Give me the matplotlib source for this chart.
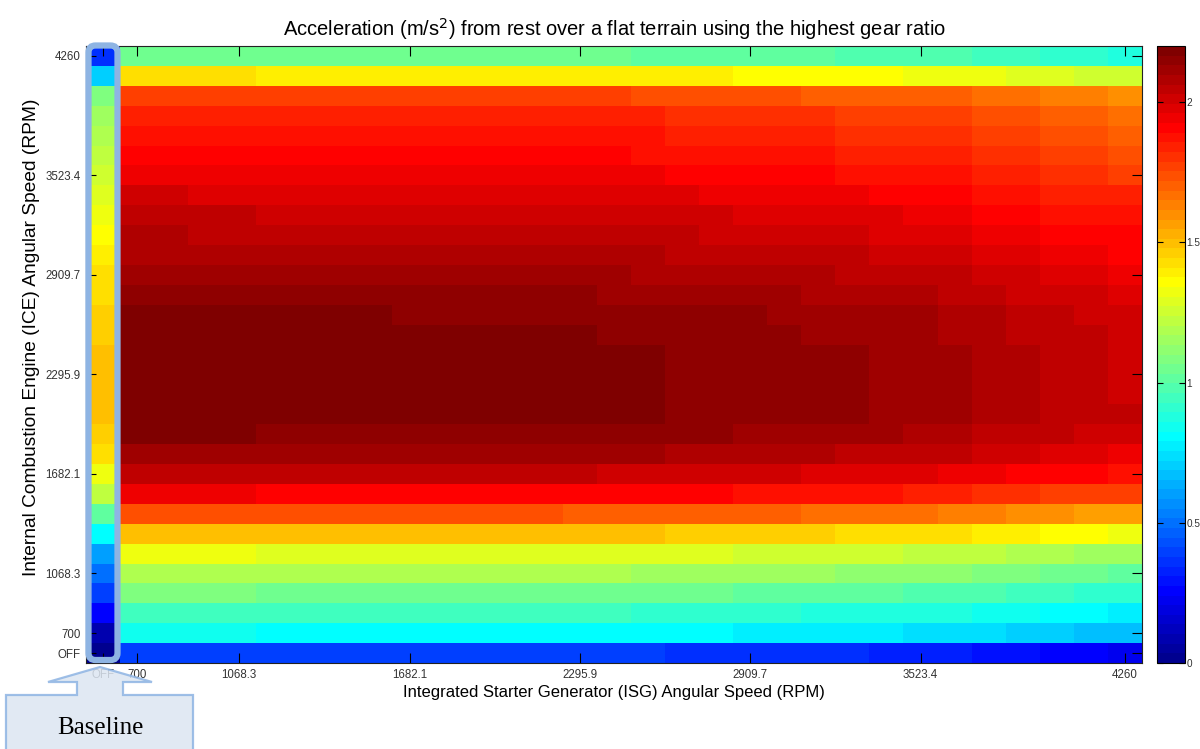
import numpy as np
import matplotlib
matplotlib.use("Agg")
import matplotlib.pyplot as plt
from matplotlib.colors import ListedColormap, Normalize
from matplotlib.patches import FancyBboxPatch, Polygon

plt.rcParams['font.family'] = ['Liberation Sans', 'DejaVu Sans']

# acceleration in m/s^2, rows go from ICE OFF (bottom) up to 4260 RPM (top)
# ISG switched off (baseline column)
baseline = [0.00, 0.09, 0.26, 0.40, 0.50, 0.60, 0.81, 1.01, 1.22, 1.32, 1.43,
            1.46, 1.50, 1.50, 1.50, 1.50, 1.46, 1.46, 1.43, 1.43, 1.39, 1.36,
            1.32, 1.29, 1.25, 1.22, 1.19, 1.15, 1.08, 0.70, 0.36]

# ISG running from 700 to 4260 RPM (30 columns per row)
isg_on = [
    [0.40]*16 + [0.36]*6 + [0.33]*3 + [0.29]*2 + [0.26]*2 + [0.22],
    [0.84]*4 + [0.81]*14 + [0.77]*5 + [0.74]*3 + [0.70]*2 + [0.67]*2,
    [0.95]*15 + [0.91]*5 + [0.88]*5 + [0.84]*2 + [0.81]*2 + [0.77],
    [1.08]*4 + [1.05]*14 + [1.01]*5 + [0.98]*3 + [0.95]*2 + [0.91]*2,
    [1.19]*15 + [1.15]*6 + [1.12]*4 + [1.08]*2 + [1.05]*2 + [1.01],
    [1.32]*4 + [1.29]*14 + [1.25]*5 + [1.22]*3 + [1.19]*2 + [1.15]*2,
    [1.50]*16 + [1.46]*5 + [1.43]*4 + [1.39]*2 + [1.36]*2 + [1.32],
    [1.74]*13 + [1.70]*7 + [1.67]*4 + [1.63]*2 + [1.60]*2 + [1.56]*2,
    [1.94]*4 + [1.91]*14 + [1.87]*5 + [1.84]*2 + [1.80]*2 + [1.77]*3,
    [2.05]*14 + [2.01]*6 + [1.98]*4 + [1.94]*2 + [1.91]*3 + [1.87],
    [2.11]*16 + [2.08]*5 + [2.05]*4 + [2.01]*2 + [1.98]*2 + [1.94],
    [2.18]*4 + [2.15]*14 + [2.11]*5 + [2.08]*2 + [2.05]*3 + [2.01]*2,
    [2.18]*16 + [2.15]*6 + [2.11]*3 + [2.08]*2 + [2.05]*3,
    [2.18]*16 + [2.15]*6 + [2.11]*3 + [2.08]*2 + [2.05]*2 + [2.01],
    [2.18]*16 + [2.15]*6 + [2.11]*3 + [2.08]*2 + [2.05]*2 + [2.01],
    [2.18]*16 + [2.15]*6 + [2.11]*3 + [2.08]*2 + [2.05]*2 + [2.01],
    [2.18]*14 + [2.15]*6 + [2.11]*4 + [2.08]*2 + [2.05]*3 + [2.01],
    [2.18]*8 + [2.15]*11 + [2.11]*5 + [2.08]*2 + [2.05]*2 + [2.01]*2,
    [2.15]*14 + [2.11]*6 + [2.08]*4 + [2.05]*2 + [2.01]*3 + [1.98],
    [2.11]*15 + [2.08]*6 + [2.05]*4 + [2.01]*2 + [1.98]*2 + [1.94],
    [2.08]*16 + [2.05]*6 + [2.01]*3 + [1.98]*2 + [1.94]*2 + [1.91],
    [2.08]*2 + [2.05]*15 + [2.01]*5 + [1.98]*3 + [1.94]*2 + [1.91]*3,
    [2.05]*4 + [2.01]*14 + [1.98]*5 + [1.94]*2 + [1.91]*2 + [1.87]*3,
    [2.01]*2 + [1.98]*15 + [1.94]*5 + [1.91]*3 + [1.87]*2 + [1.84]*3,
    [1.94]*16 + [1.91]*5 + [1.87]*4 + [1.84]*2 + [1.80]*2 + [1.77],
    [1.91]*15 + [1.87]*6 + [1.84]*4 + [1.80]*2 + [1.77]*2 + [1.74],
    [1.87]*16 + [1.84]*5 + [1.80]*4 + [1.77]*2 + [1.74]*2 + [1.70],
    [1.84]*16 + [1.80]*5 + [1.77]*4 + [1.74]*2 + [1.70]*2 + [1.67],
    [1.77]*15 + [1.74]*5 + [1.70]*5 + [1.67]*2 + [1.63]*2 + [1.60],
    [1.43]*4 + [1.39]*14 + [1.36]*5 + [1.32]*3 + [1.29]*2 + [1.25]*2,
    [1.05]*15 + [1.01]*6 + [0.98]*4 + [0.95]*2 + [0.91]*2 + [0.88],
]

tick_idx = [0, 1, 4, 9, 14, 19, 24, 30]
tick_labels = ["OFF", "700", "1068.3", "1682.1", "2295.9", "2909.7", "3523.4", "4260"]
cbar_ticks = [0, 0.5, 1, 1.5, 2]
acc_max = 2.2


def matlab_jet(m=64):
    # same construction as MATLAB's jet(m)
    n = int(np.ceil(m / 4))
    u = np.concatenate([np.arange(1, n + 1) / n, np.ones(n - 1), np.arange(n, 0, -1) / n])
    g = int(np.ceil(n / 2)) - (1 if m % 4 == 1 else 0) + np.arange(1, len(u) + 1)
    r = g + n
    b = g - n
    J = np.zeros((m, 3))
    for ch, idx in ((0, r), (1, g), (2, b)):
        ok = (idx >= 1) & (idx <= m)
        J[idx[ok] - 1, ch] = u[ok]
    return ListedColormap(J)


accel = np.column_stack([baseline, np.array(isg_on)])

fig = plt.figure(figsize=(12, 7.49), dpi=100)
ax = fig.add_axes([86 / 1200, 1 - 663 / 749, 1056 / 1200, 617 / 749])
cax = fig.add_axes([1157 / 1200, 1 - 663 / 749, 28 / 1200, 617 / 749])

im = ax.imshow(accel, origin="lower", aspect="auto", interpolation="nearest",
               cmap=matlab_jet(64), norm=Normalize(0, acc_max))

ax.set_xticks(tick_idx)
ax.set_xticklabels(tick_labels)
ax.set_yticks(tick_idx)
ax.set_yticklabels(tick_labels)
ax.tick_params(direction="in", length=7, width=0.8, top=True, right=True,
               labelsize=8.3, labelcolor="#333333", pad=4)
for s in ax.spines.values():
    s.set_linewidth(0.8)
    s.set_color("#222222")

ax.set_title("Acceleration (m/s$^2$) from rest over a flat terrain using the highest gear ratio",
             fontsize=14.5, pad=7)
ax.set_xlabel("Integrated Starter Generator (ISG) Angular Speed (RPM)", fontsize=12, labelpad=3)
ax.set_ylabel("Internal Combustion Engine (ICE) Angular Speed (RPM)", fontsize=13.8)
ax.yaxis.set_label_coords(-0.044, 0.528)

cb = fig.colorbar(im, cax=cax, ticks=cbar_ticks)
cb.ax.set_yticklabels(["0", "0.5", "1", "1.5", "2"])
cb.ax.tick_params(direction="in", length=4, width=0.8, left=True, right=True,
                  labelsize=7.2, labelcolor="#333333", pad=1)
cb.outline.set_linewidth(0.8)

# highlight around the baseline column and its callout (pixel positions -> inches)
def px(x, y):
    return x / 100, (749 - y) / 100

edge = "#8EB4E3"
x0, y0 = px(88.5, 660)
x1, y1 = px(117.5, 45.5)
frame = FancyBboxPatch((x0, y0), x1 - x0, y1 - y0,
                       boxstyle="round,pad=0,rounding_size=0.07",
                       transform=fig.dpi_scale_trans, fill=False,
                       edgecolor=edge, linewidth=4.5, zorder=5)
fig.add_artist(frame)

callout_pts = [px(6, 695), px(77, 695), px(77, 682), px(48, 682), px(100, 667),
               px(152, 682), px(123, 682), px(123, 695), px(193, 695),
               px(193, 760), px(6, 760)]
callout = Polygon(callout_pts, closed=True, transform=fig.dpi_scale_trans,
                  facecolor="#DCE6F2", edgecolor=edge, linewidth=1.6,
                  alpha=0.85, zorder=5)
fig.add_artist(callout)
bx, by = px(100, 728)
fig.text(bx / 12, by / 7.49, "Baseline", ha="center", va="center",
         fontsize=18, family=["Liberation Serif", "DejaVu Serif"], zorder=6)

fig.savefig("out.png", dpi=100)
